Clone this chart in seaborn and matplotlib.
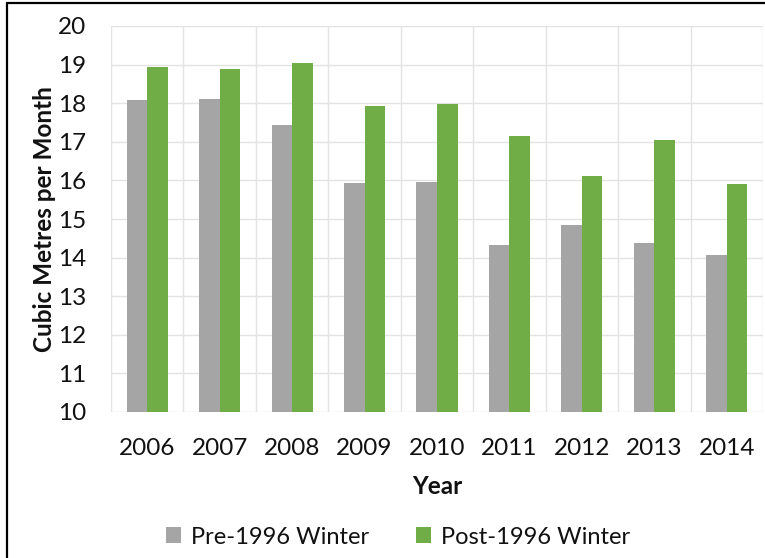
import matplotlib
matplotlib.use("Agg")
import matplotlib.pyplot as plt
import seaborn as sns
import pandas as pd
from matplotlib.lines import Line2D
from matplotlib.patches import Patch

years = ["2006", "2007", "2008", "2009", "2010", "2011", "2012", "2013", "2014"]
pre_1996 = [18.09, 18.12, 17.44, 15.92, 15.97, 14.32, 14.84, 14.38, 14.08]
post_1996 = [18.94, 18.89, 19.04, 17.94, 17.97, 17.15, 16.11, 17.05, 15.90]
series_names = ["Pre-1996 Winter", "Post-1996 Winter"]
colors = ["#a5a5a5", "#70ad47"]
y_ticks = [10, 11, 12, 13, 14, 15, 16, 17, 18, 19, 20]

df = pd.DataFrame({
    "Year": years * 2,
    "Value": pre_1996 + post_1996,
    "Series": [series_names[0]] * len(years) + [series_names[1]] * len(years),
})

sns.set_theme(style="white")
plt.rcParams["font.family"] = ["Lato", "DejaVu Sans"]

fig = plt.figure(figsize=(7.65, 5.58), dpi=100)
ax = fig.add_axes([111 / 765, 1 - 412 / 558, (763 - 111) / 765, (412 - 26) / 558])

sns.barplot(data=df, x="Year", y="Value", hue="Series", palette=colors,
            width=0.566, gap=0, ax=ax, legend=False, saturation=1,
            edgecolor="none", linewidth=0)

ax.set_ylim(10, 20)
ax.set_yticks(y_ticks)
ax.set_xlim(-0.5, len(years) - 0.5)
# grid: horizontal at ticks, vertical at category boundaries
for y in y_ticks:
    ax.axhline(y, color="#e3e3e3", lw=1, zorder=0)
for i in range(len(years) + 1):
    ax.axvline(i - 0.5, color="#e3e3e3", lw=1, zorder=0)
ax.set_axisbelow(True)
for s in ax.spines.values():
    s.set_visible(False)

ax.tick_params(axis="both", length=0, labelsize=17.5, colors="#111111")
ax.tick_params(axis="y", pad=18)
ax.tick_params(axis="x", pad=19)
ax.set_xlabel("Year", fontsize=17.5, fontweight="bold", color="#111111", labelpad=11)
ax.set_ylabel("Cubic Metres per Month", fontsize=17.5, fontweight="bold", color="#111111", labelpad=1)

handles = [Patch(facecolor=c, edgecolor="none") for c in colors]
fig.legend(handles, series_names, loc="center", bbox_to_anchor=(398 / 765, 1 - 537 / 558),
           ncol=2, frameon=False, fontsize=17, handlelength=0.65, handleheight=0.65,
           handletextpad=0.4, columnspacing=2.0, labelcolor="#111111")

# partial border (top and left)
fig.add_artist(Line2D([7 / 765, 1], [1 - 3 / 558, 1 - 3 / 558], color="black", lw=1.6, transform=fig.transFigure))
fig.add_artist(Line2D([7 / 765, 7 / 765], [0, 1 - 3 / 558], color="black", lw=1.6, transform=fig.transFigure))

fig.savefig("out.png", dpi=100)
